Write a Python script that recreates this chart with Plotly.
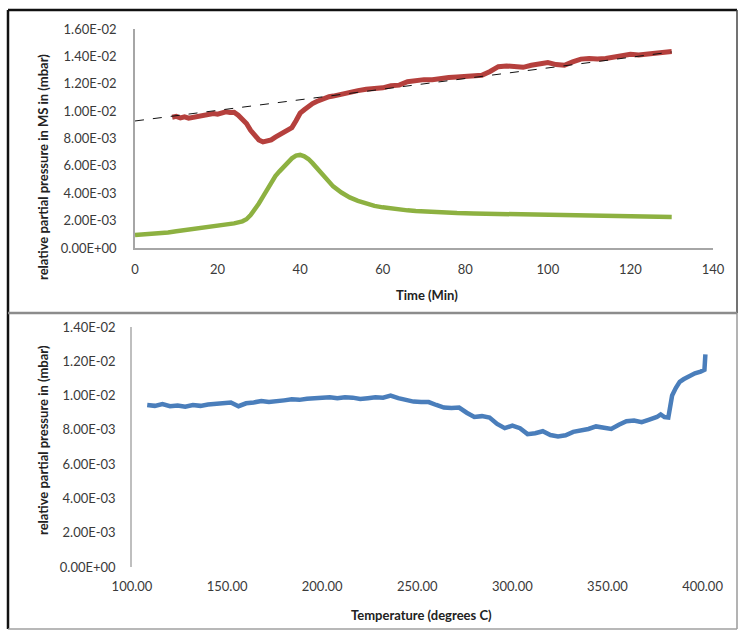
import plotly.graph_objects as go

# ---------------- data ----------------
time_red = [9, 10, 11, 12, 13, 14, 15, 16, 17, 18, 19, 20, 21, 22, 23, 24, 25, 26, 27, 28,
            29, 30, 31, 32, 33, 34, 35, 36, 37, 38, 39, 40, 41, 42, 43, 44, 45, 46, 47, 48,
            50, 52, 54, 56, 58, 60, 62, 64, 66, 68, 70, 72, 74, 76, 78, 80, 82, 84, 86, 88,
            90, 92, 94, 96, 98, 100, 102, 104, 106, 108, 110, 112, 114, 116, 118, 120, 122,
            124, 126, 128, 130]
red_e3 = [9.55, 9.62, 9.50, 9.58, 9.48, 9.55, 9.62, 9.60, 9.70, 9.75, 9.82, 9.78, 9.90, 9.95,
          9.90, 9.92, 9.70, 9.45, 9.10, 8.60, 8.20, 7.90, 7.75, 7.85, 7.90, 8.10, 8.25, 8.45,
          8.55, 8.80, 9.30, 9.85, 10.10, 10.35, 10.55, 10.70, 10.85, 10.95, 11.05, 11.10,
          11.25, 11.40, 11.50, 11.60, 11.62, 11.70, 11.85, 11.90, 12.15, 12.25, 12.30, 12.30,
          12.40, 12.45, 12.50, 12.55, 12.60, 12.62, 12.90, 13.25, 13.30, 13.25, 13.20, 13.35,
          13.45, 13.55, 13.40, 13.35, 13.60, 13.80, 13.85, 13.80, 13.85, 13.95, 14.05, 14.15,
          14.10, 14.15, 14.25, 14.30, 14.35]

time_green = [0, 2, 4, 6, 8, 10, 12, 14, 16, 18, 20, 22, 24, 26, 27, 28, 29, 30, 31, 32, 33,
              34, 35, 36, 37, 38, 39, 40, 41, 42, 43, 44, 45, 46, 47, 48, 50, 52, 54, 56, 58,
              60, 62, 64, 66, 68, 70, 74, 78, 82, 86, 90, 94, 98, 102, 106, 110, 114, 118,
              122, 126, 130]
green_e3 = [0.95, 0.98, 1.02, 1.08, 1.14, 1.22, 1.30, 1.38, 1.47, 1.55, 1.63, 1.70, 1.80,
            1.95, 2.10, 2.40, 2.80, 3.25, 3.75, 4.30, 4.80, 5.25, 5.60, 5.95, 6.30, 6.55,
            6.75, 6.80, 6.70, 6.50, 6.20, 5.85, 5.50, 5.15, 4.80, 4.50, 4.05, 3.70, 3.45,
            3.25, 3.08, 2.97, 2.88, 2.80, 2.75, 2.70, 2.66, 2.60, 2.55, 2.52, 2.50, 2.48,
            2.46, 2.44, 2.40, 2.35, 2.30, 2.30, 2.28, 2.30, 2.28, 2.27]

trend_time = [0, 130]
trend_e3 = [9.28, 14.32]

temp_blue = [108, 112, 116, 120, 124, 128, 132, 136, 140, 144, 148, 152, 156, 160, 164, 168,
             172, 176, 180, 184, 188, 192, 196, 200, 204, 208, 212, 216, 220, 224, 228, 232,
             236, 240, 244, 248, 252, 256, 260, 264, 268, 272, 276, 280, 284, 288, 292, 296,
             300, 304, 308, 312, 316, 320, 324, 328, 332, 336, 340, 344, 348, 352, 356, 360,
             364, 368, 372, 376, 378, 380, 382, 383, 384, 386, 388, 390, 393, 396, 399, 401,
             401.5]
blue_e3 = [9.45, 9.40, 9.50, 9.38, 9.42, 9.35, 9.45, 9.40, 9.48, 9.50, 9.55, 9.60, 9.38, 9.55,
           9.60, 9.68, 9.62, 9.70, 9.72, 9.78, 9.75, 9.82, 9.85, 9.88, 9.90, 9.85, 9.90, 9.88,
           9.80, 9.85, 9.90, 9.88, 10.00, 9.85, 9.75, 9.65, 9.62, 9.62, 9.45, 9.30, 9.28, 9.30,
           9.00, 8.75, 8.80, 8.72, 8.35, 8.10, 8.25, 8.10, 7.75, 7.80, 7.92, 7.70, 7.62, 7.68,
           7.88, 7.95, 8.05, 8.20, 8.15, 8.05, 8.30, 8.50, 8.55, 8.45, 8.60, 8.75, 8.90, 8.75,
           8.72, 9.40, 10.00, 10.45, 10.80, 10.95, 11.15, 11.30, 11.40, 11.50, 12.40]

top_yticks = [0.000, 0.002, 0.004, 0.006, 0.008, 0.010, 0.012, 0.014, 0.016]
top_ytext = ["0.00E+00", "2.00E-03", "4.00E-03", "6.00E-03", "8.00E-03",
             "1.00E-02", "1.20E-02", "1.40E-02", "1.60E-02"]
bot_yticks = [0.000, 0.002, 0.004, 0.006, 0.008, 0.010, 0.012, 0.014]
bot_ytext = ["0.00E+00", "2.00E-03", "4.00E-03", "6.00E-03", "8.00E-03",
             "1.00E-02", "1.20E-02", "1.40E-02"]

top_xtitle = "Time (Min)"
top_ytitle = "relative partial pressure in MS in (mbar)"
bot_xtitle = "Temperature (degrees C)"
bot_ytitle = "relative partial pressure in (mbar)"

# ---------------- figure ----------------
W, H = 740, 631
FONT = "Lato"
TICKC = "#3a3a3a"

def e3(vals):
    return [v * 1e-3 for v in vals]

fig = go.Figure()
fig.add_trace(go.Scatter(x=time_green, y=e3(green_e3), mode="lines",
                         line=dict(color="#8DB141", width=4.5), xaxis="x", yaxis="y",
                         showlegend=False, hoverinfo="skip"))
fig.add_trace(go.Scatter(x=time_red, y=e3(red_e3), mode="lines",
                         line=dict(color="#B5403D", width=5), xaxis="x", yaxis="y",
                         showlegend=False, hoverinfo="skip"))
fig.add_trace(go.Scatter(x=trend_time, y=e3(trend_e3), mode="lines",
                         line=dict(color="#111111", width=1, dash="dash"), xaxis="x", yaxis="y",
                         showlegend=False, hoverinfo="skip"))
fig.add_trace(go.Scatter(x=temp_blue, y=e3(blue_e3), mode="lines",
                         line=dict(color="#4A7EBB", width=4.5), xaxis="x2", yaxis="y2",
                         showlegend=False, hoverinfo="skip"))

def px_x(p):
    return p / W

def px_y(p):
    return 1 - p / H

axis_common = dict(showgrid=False, zeroline=False, ticks="", automargin=False,
                   tickfont=dict(family=FONT, size=13, color=TICKC))

fig.update_layout(
    width=W, height=H, margin=dict(l=0, r=0, t=0, b=0, pad=0, autoexpand=False),
    paper_bgcolor="white", plot_bgcolor="white",
    xaxis=dict(domain=[px_x(135), px_x(713)], range=[0, 140], dtick=20, tick0=0,
               showline=True, linecolor="#A6A6A6", linewidth=1.5, anchor="y",
               ticklabelstandoff=9, **axis_common),
    yaxis=dict(domain=[px_y(248), px_y(29)], range=[0, 0.016],
               tickvals=top_yticks, ticktext=top_ytext,
               showline=True, linecolor="#A6A6A6", linewidth=1.5, anchor="x",
               ticklabelstandoff=14, **axis_common),
    xaxis2=dict(domain=[px_x(132), px_x(713)], range=[100, 405.5], dtick=50, tick0=100,
                tickformat=".2f", showline=False, anchor="y2",
                ticklabelstandoff=10, **axis_common),
    yaxis2=dict(domain=[px_y(567), px_y(327)], range=[0, 0.014],
                tickvals=bot_yticks, ticktext=bot_ytext,
                showline=True, linecolor="#BFBFBF", linewidth=1.5, anchor="x2",
                ticklabelstandoff=12, **axis_common),
)

title_font = dict(family=FONT, size=13, color="#222222")
anns = [
    dict(text="<b>%s</b>" % top_xtitle, x=px_x(427), y=px_y(295)),
    dict(text="<b>%s</b>" % bot_xtitle, x=px_x(421), y=px_y(615)),
    dict(text="<b>%s</b>" % top_ytitle, x=px_x(43), y=px_y(167), textangle=-90),
    dict(text="<b>%s</b>" % bot_ytitle, x=px_x(43), y=px_y(440), textangle=-90),
]
for a in anns:
    fig.add_annotation(xref="paper", yref="paper", showarrow=False,
                       xanchor="center", yanchor="middle", font=title_font, **a)

# chart frames
def line(x0, y0, x1, y1, color, width):
    fig.add_shape(type="line", xref="paper", yref="paper",
                  x0=px_x(x0), y0=px_y(y0), x1=px_x(x1), y1=px_y(y1),
                  line=dict(color=color, width=width))

line(8, 10, 737, 10, "#111111", 2.5)     # top
line(8, 10, 8, 629, "#111111", 2.5)      # left
line(737, 10, 737, 313, "#444444", 1.5)  # right (top panel)
line(737, 313, 737, 629, "#9A9A9A", 1.5) # right (bottom panel)
line(8, 313, 737, 313, "#8C8C8C", 2.5)   # divider
line(8, 629, 737, 629, "#A0A0A0", 1.5)   # bottom

fig.write_html("out.html")
